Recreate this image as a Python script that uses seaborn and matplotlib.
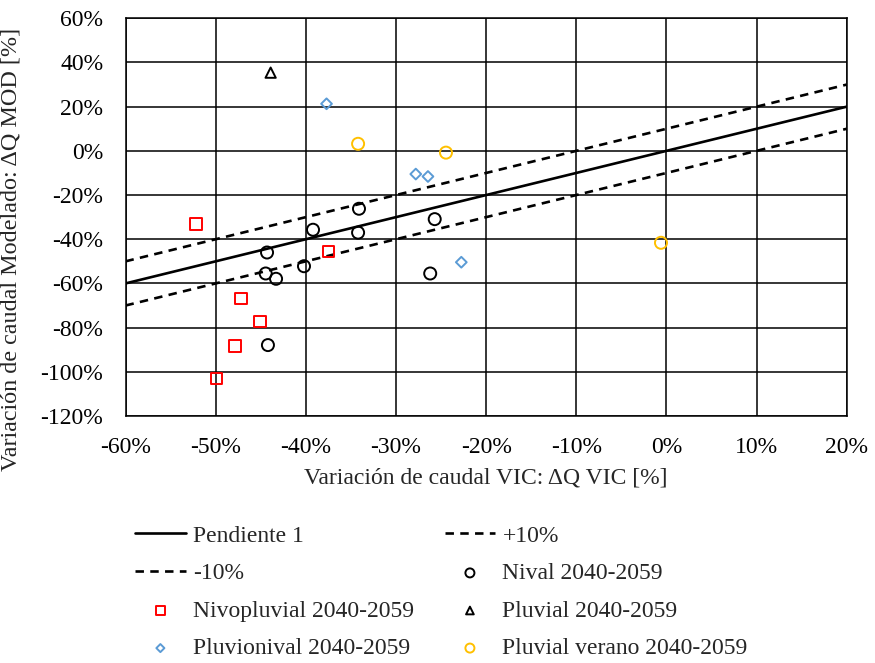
import matplotlib
matplotlib.use("Agg")
import matplotlib.pyplot as plt
import seaborn as sns
import pandas as pd
from matplotlib.ticker import FuncFormatter, MultipleLocator

# ---- data ----
line_x = [-60, 20]
pendiente_y = [-60, 20]
mas10_y = [-50, 30]
menos10_y = [-70, 10]

nival_x = [-34.1, -39.2, -34.2, -25.7, -44.3, -44.45, -43.3, -40.2, -26.2, -44.2]
nival_y = [-26.2, -35.7, -37.0, -30.9, -46.0, -55.5, -57.9, -52.2, -55.5, -87.9]
nivopluvial_x = [-52.2, -37.5, -47.2, -45.1, -47.85, -49.9]
nivopluvial_y = [-33.0, -45.6, -66.8, -77.2, -88.4, -103.0]
pluvial_x = [-43.9]
pluvial_y = [35.4]
pluvionival_x = [-37.7, -27.8, -26.45, -22.75]
pluvionival_y = [21.3, -10.5, -11.6, -50.4]
verano_x = [-34.2, -24.45, -0.6]
verano_y = [3.2, -0.8, -41.6]

xlabel = "Variación de caudal VIC: ΔQ VIC [%]"
ylabel = "Variación de caudal Modelado: ΔQ MOD [%]"

sns.set_style("white")
plt.rcParams["font.family"] = ["Liberation Serif", "DejaVu Serif"]
plt.rcParams["axes.unicode_minus"] = False

W, H = 875, 663
fig = plt.figure(figsize=(W / 100, H / 100), dpi=100)
ax = fig.add_axes([125.5 / W, 1 - 416 / H, (846.7 - 125.5) / W, (416 - 18.3) / H])

lw = 1.9
sns.lineplot(x=line_x, y=pendiente_y, ax=ax, color="black", lw=lw, label="Pendiente 1", zorder=3)
sns.lineplot(x=line_x, y=mas10_y, ax=ax, color="black", lw=lw, label="+10%", zorder=3,
             dashes=False, linestyle=(0, (3.2, 2.4)))
sns.lineplot(x=line_x, y=menos10_y, ax=ax, color="black", lw=lw, label="-10%", zorder=3,
             dashes=False, linestyle=(0, (3.2, 2.4)))

def pts(x, y, marker, color, label, s):
    sns.scatterplot(x=x, y=y, ax=ax, marker=marker, s=s, color=color,
                    facecolor="none", edgecolor=color, linewidth=1.4,
                    label=label, zorder=4)

pts(nival_x, nival_y, "o", "black", "Nival 2040-2059", 75)
pts(nivopluvial_x, nivopluvial_y, "s", "#FF0000", "Nivopluvial 2040-2059", 70)
pts(pluvial_x, pluvial_y, "^", "black", "Pluvial 2040-2059", 55)
pts(pluvionival_x, pluvionival_y, "D", "#5B9BD5", "Pluvionival 2040-2059", 30)
pts(verano_x, verano_y, "o", "#FFC000", "Pluvial verano 2040-2059", 75)

ax.set_xlim(-60, 20)
ax.set_ylim(-120, 60)
ax.xaxis.set_major_locator(MultipleLocator(10))
ax.yaxis.set_major_locator(MultipleLocator(20))
fmt = FuncFormatter(lambda v, p: f"{v:.0f}%")
ax.xaxis.set_major_formatter(fmt)
ax.yaxis.set_major_formatter(fmt)
ax.grid(True, color="black", lw=1.1)
ax.set_axisbelow(True)
for sp in ax.spines.values():
    sp.set_color("black")
    sp.set_linewidth(1.1)
ax.tick_params(length=0, labelsize=17, colors="black")
ax.tick_params(axis="y", pad=16)
ax.tick_params(axis="x", pad=15)
ax.set_xlabel(xlabel, fontsize=17, labelpad=7)
ax.set_ylabel(ylabel, fontsize=17.4)
ax.yaxis.set_label_coords(-104 / (846.7 - 125.5), 0.42)

handles, labels = ax.get_legend_handles_labels()
ax.get_legend().remove()
order = ["Pendiente 1", "-10%", "Nivopluvial 2040-2059", "Pluvionival 2040-2059",
         "+10%", "Nival 2040-2059", "Pluvial 2040-2059", "Pluvial verano 2040-2059"]
hmap = dict(zip(labels, handles))
fig.legend([hmap[l] for l in order], order, ncol=2, loc="upper left",
           bbox_to_anchor=(135 / W, 1 - 525 / H), frameon=False, fontsize=17,
           borderpad=0, borderaxespad=0, handlelength=2.15, handletextpad=0.3,
           columnspacing=1.3, labelspacing=0.68, markerscale=0.75)

fig.savefig("out.png", dpi=100)
